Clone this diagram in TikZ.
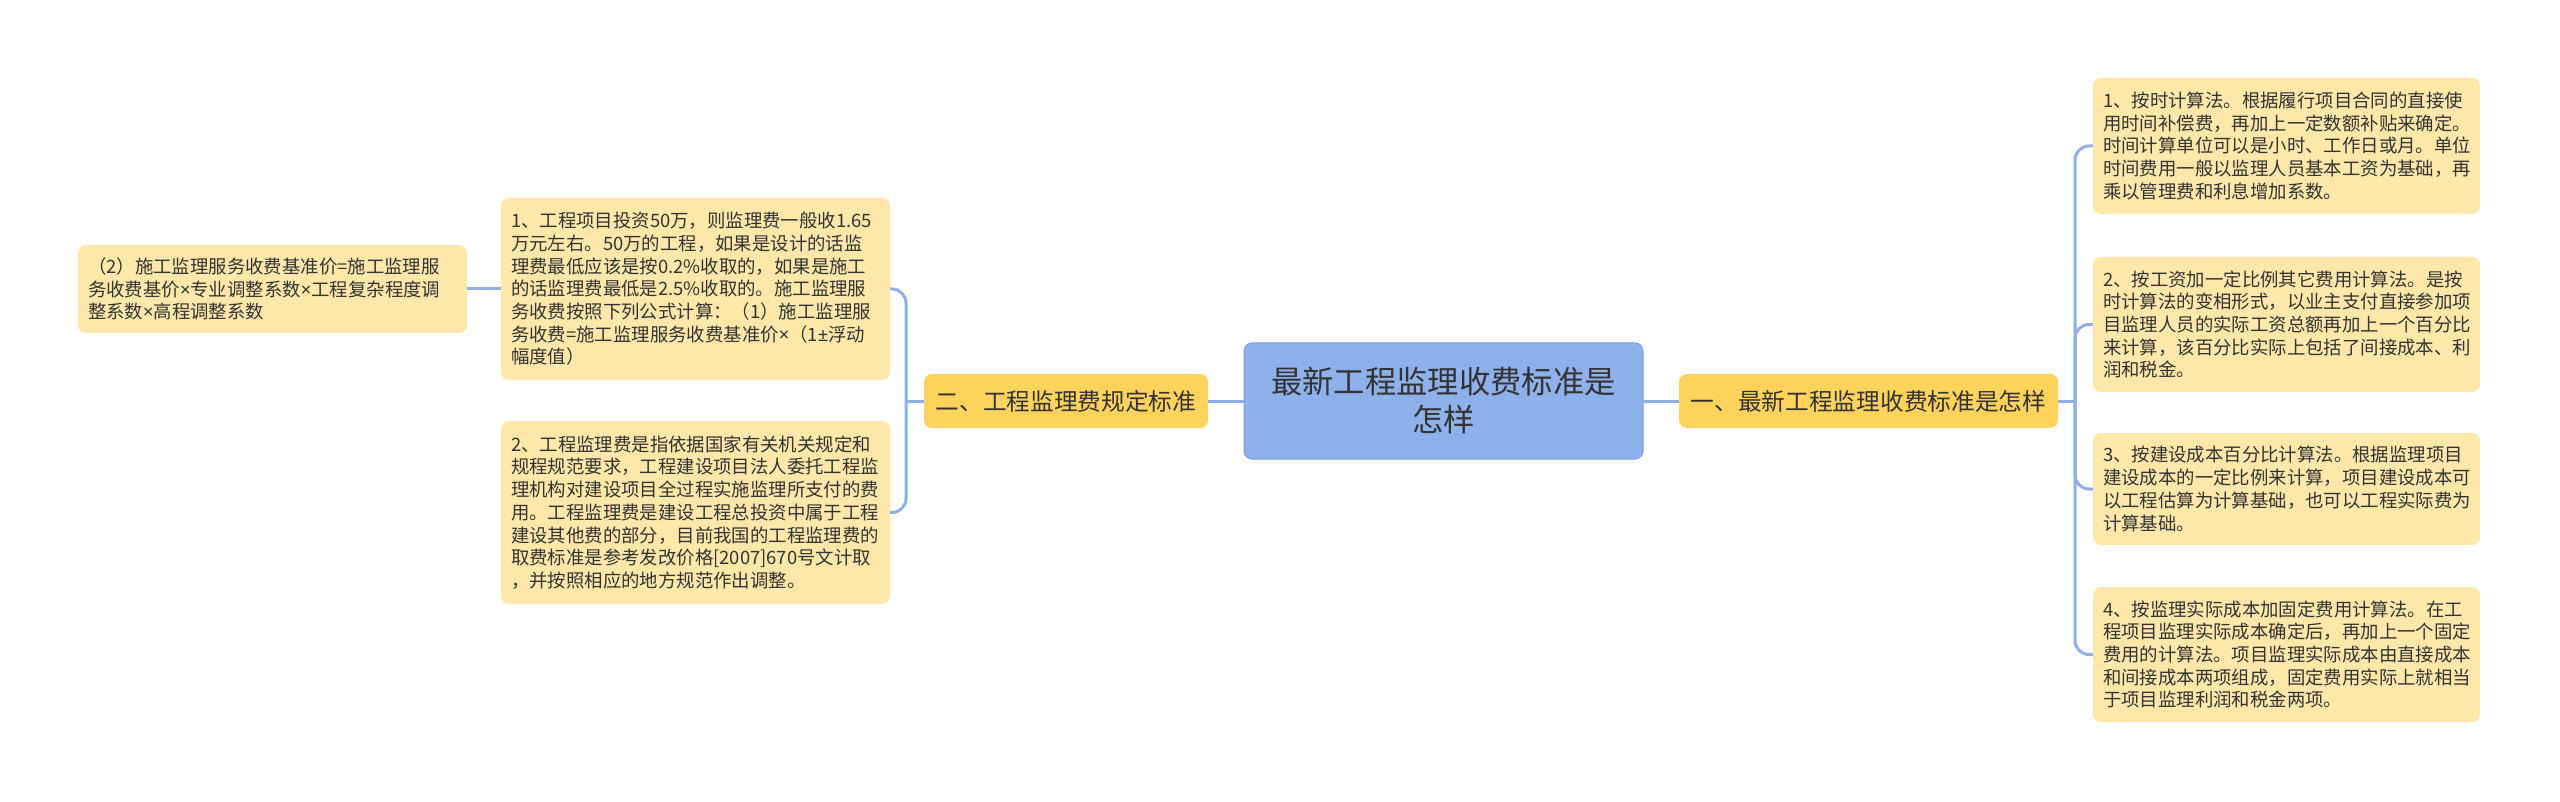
\documentclass[tikz,border=0pt]{standalone}
\usepackage{fontspec}
\setmainfont{Noto Sans CJK SC}
\newfontfamily\latinsym{Noto Sans}
\newcommand{\mytimes}{{\latinsym ×}}
\newcommand{\mypm}{{\latinsym ±}}
\definecolor{leaf}{HTML}{FDE7A9}
\definecolor{lvl}{HTML}{FDD35C}
\definecolor{rootc}{HTML}{8EB1EB}
\definecolor{rootb}{HTML}{7A9EDD}
\definecolor{edge}{HTML}{8FAEE5}
\definecolor{txt}{HTML}{333333}
\begin{document}
\begin{tikzpicture}[x=1pt,y=-1pt,
  leafbox/.style={fill=leaf, draw=none, rounded corners=8pt, text=txt, align=left,
    inner xsep=10pt, inner ysep=0pt, text width=367pt, minimum width=387pt,
    font=\fontsize{18.4}{22.7}\selectfont},
  lvlbox/.style={fill=lvl, draw=none, rounded corners=8pt, text=txt, align=center,
    inner sep=0pt, minimum height=54pt, font=\fontsize{23.7}{28}\selectfont},
  rootbox/.style={fill=rootc, draw=rootb, line width=1pt, rounded corners=8pt, text=txt, align=center,
    inner sep=0pt, minimum width=399pt, minimum height=116pt, font=\fontsize{31.3}{38}\selectfont},
  conn/.style={draw=edge, line width=3pt},
  branch/.style={conn, rounded corners=14pt}
]
\useasboundingbox (0,0) rectangle (2560,802);
\fill[white] (0,0) rectangle (2560,802);

% root and level-1
\node[rootbox] (C) at (1443.5,401) {最新工程监理收费标准是\\怎样};
\node[lvlbox, minimum width=284pt] (L2) at (1066,401) {二、工程监理费规定标准};
\node[lvlbox, minimum width=379pt] (L1) at (1868.5,401) {一、最新工程监理收费标准是怎样};

% left leaves
\node[leafbox, text width=369pt, minimum width=389pt, minimum height=182pt] (a1) at (695.5,289) {1、工程项目投资50万，则监理费一般收1.65\\万元左右。50万的工程，如果是设计的话监\\理费最低应该是按0.2\%收取的，如果是施工\\的话监理费最低是2.5\%收取的。施工监理服\\务收费按照下列公式计算：（1）施工监理服\\务收费=施工监理服务收费基准价\mytimes（1\mypm 浮动\\幅度值）};
\node[leafbox, text width=369pt, minimum width=389pt, minimum height=183pt] (a2) at (695.5,512.5) {2、工程监理费是指依据国家有关机关规定和\\规程规范要求，工程建设项目法人委托工程监\\理机构对建设项目全过程实施监理所支付的费\\用。工程监理费是建设工程总投资中属于工程\\建设其他费的部分，目前我国的工程监理费的\\取费标准是参考发改价格[2007]670号文计取\\，并按照相应的地方规范作出调整。};
\node[leafbox, text width=369pt, minimum width=389pt, minimum height=88pt] (ll) at (272.5,289) {（2）施工监理服务收费基准价=施工监理服\\务收费基价\mytimes 专业调整系数\mytimes 工程复杂程度调\\整系数\mytimes 高程调整系数};

% right leaves
\node[leafbox, minimum height=136pt] (r1) at (2286.5,146) {1、按时计算法。根据履行项目合同的直接使\\用时间补偿费，再加上一定数额补贴来确定。\\时间计算单位可以是小时、工作日或月。单位\\时间费用一般以监理人员基本工资为基础，再\\乘以管理费和利息增加系数。};
\node[leafbox, minimum height=135pt] (r2) at (2286.5,324.5) {2、按工资加一定比例其它费用计算法。是按\\时计算法的变相形式，以业主支付直接参加项\\目监理人员的实际工资总额再加上一个百分比\\来计算，该百分比实际上包括了间接成本、利\\润和税金。};
\node[leafbox, minimum height=112pt] (r3) at (2286.5,489) {3、按建设成本百分比计算法。根据监理项目\\建设成本的一定比例来计算，项目建设成本可\\以工程估算为计算基础，也可以工程实际费为\\计算基础。};
\node[leafbox, minimum height=135pt] (r4) at (2286.5,654.5) {4、按监理实际成本加固定费用计算法。在工\\程项目监理实际成本确定后，再加上一个固定\\费用的计算法。项目监理实际成本由直接成本\\和间接成本两项组成，固定费用实际上就相当\\于项目监理利润和税金两项。};

% junctions
\coordinate (jl) at (906,401);
\coordinate (jr) at (2075,401);

% connectors
\draw[conn] (C.west) -- (L2.east);
\draw[conn] (C.east) -- (L1.west);
\draw[conn] (L2.west) -- (jl);
\draw[branch] (jl) |- (a1.east);
\draw[branch] (jl) |- (a2.east);
\draw[conn] (a1.west) -- (ll.east);
\draw[conn] (L1.east) -- (jr);
\draw[branch] (jr) |- (r1.west);
\draw[branch] (jr) |- (r2.west);
\draw[branch] (jr) |- (r3.west);
\draw[branch] (jr) |- (r4.west);
\end{tikzpicture}
\end{document}
